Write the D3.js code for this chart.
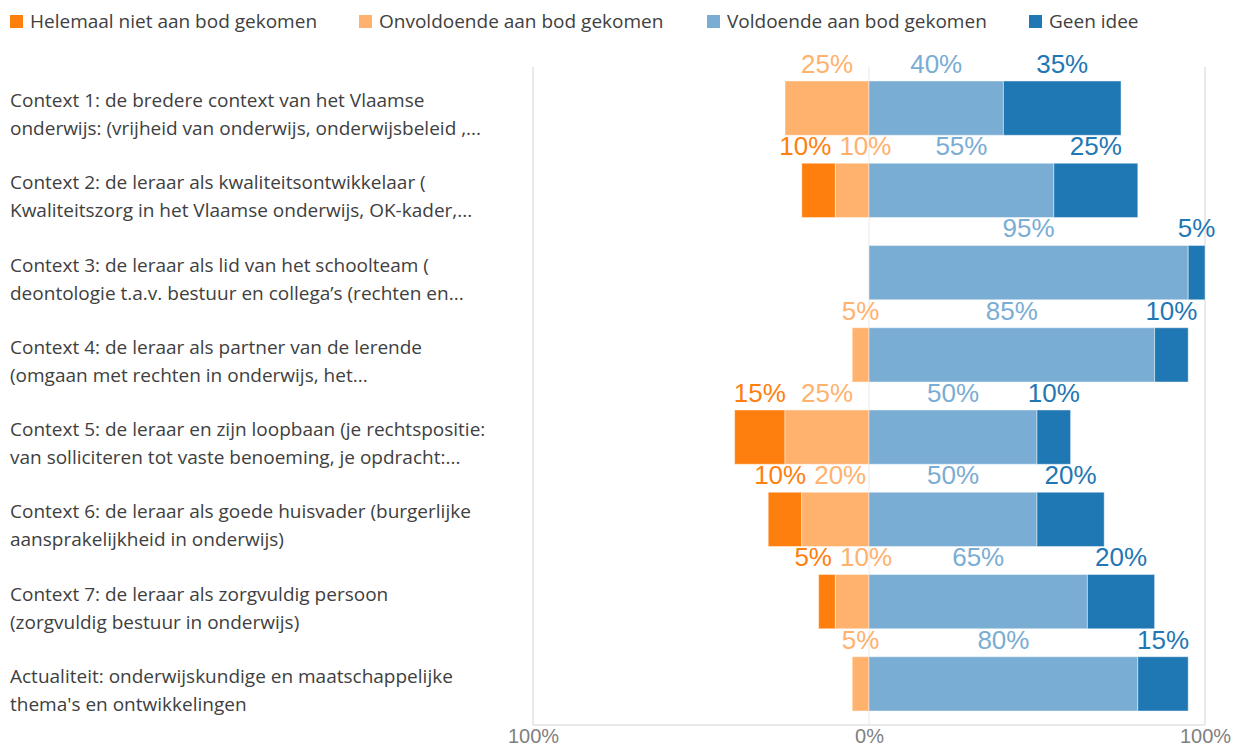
<!DOCTYPE html>
<html>
<head>
<meta charset="utf-8">
<script src="https://cdn.jsdelivr.net/npm/d3@7"></script>
<style>
  html, body { margin: 0; padding: 0; background: #fff; }
  svg { display: block; }
</style>
</head>
<body>
<svg id="chart" width="1239" height="747"></svg>
<script>
const categories = [
  ["Context 1: de bredere context van het Vlaamse", "onderwijs: (vrijheid van onderwijs, onderwijsbeleid ,..."],
  ["Context 2: de leraar als kwaliteitsontwikkelaar (", "Kwaliteitszorg in het Vlaamse onderwijs, OK-kader,..."],
  ["Context 3: de leraar als lid van het schoolteam (", "deontologie t.a.v. bestuur en collega\u2019s (rechten en..."],
  ["Context 4: de leraar als partner van de lerende", "(omgaan met rechten in onderwijs, het..."],
  ["Context 5: de leraar en zijn loopbaan (je rechtspositie:", "van solliciteren tot vaste benoeming, je opdracht:..."],
  ["Context 6: de leraar als goede huisvader (burgerlijke", "aansprakelijkheid in onderwijs)"],
  ["Context 7: de leraar als zorgvuldig persoon", "(zorgvuldig bestuur in onderwijs)"],
  ["Actualiteit: onderwijskundige en maatschappelijke", "thema's en ontwikkelingen"]
];
const seriesNames = ["Helemaal niet aan bod gekomen", "Onvoldoende aan bod gekomen", "Voldoende aan bod gekomen", "Geen idee"];
const helemaal    = [0, 10, 0, 0, 15, 10, 5, 0];
const onvoldoende = [25, 10, 0, 5, 25, 20, 10, 5];
const voldoende   = [40, 55, 95, 85, 50, 50, 65, 80];
const geenIdee    = [35, 25, 5, 10, 10, 20, 20, 15];
const tickValues  = [-100, 0, 100];
const tickLabels  = ["100%", "0%", "100%"];
const colors = ["#ff7f0e", "#ffb26e", "#7aadd3", "#1f77b4"];

const svg = d3.select("#chart");
const labelFont = "'Open Sans', 'Noto Sans', sans-serif";
const numFont = "'Liberation Sans', Arial, sans-serif";

const x = d3.scaleLinear().domain([-100, 100]).range([533, 1205]);
const y = d3.scaleBand().domain(d3.range(categories.length)).range([67, 725])
  .paddingInner(0.34).paddingOuter(0.17);

// frame
const g0 = svg.append("g");
g0.append("line").attr("x1", x(-100)).attr("x2", x(-100)).attr("y1", 67).attr("y2", 725).attr("stroke", "#e3e3e3").attr("stroke-width", 1.5);
g0.append("line").attr("x1", x(100)).attr("x2", x(100)).attr("y1", 67).attr("y2", 725).attr("stroke", "#e3e3e3").attr("stroke-width", 1.5);
g0.append("line").attr("x1", x(-100)).attr("x2", x(100)).attr("y1", 725).attr("y2", 725).attr("stroke", "#e3e3e3").attr("stroke-width", 1.5);
g0.append("line").attr("x1", x(0)).attr("x2", x(0)).attr("y1", 67).attr("y2", 725).attr("stroke", "#e8e8e8").attr("stroke-width", 1);

// axis
const axis = d3.axisBottom(x).tickValues(tickValues).tickFormat((d, i) => tickLabels[i]).tickSize(0).tickPadding(0);
const ag = svg.append("g").attr("transform", "translate(0,728)").call(axis);
ag.select(".domain").remove();
ag.selectAll("text").attr("font-family", numFont).attr("font-size", 20).attr("fill", "#7f7f7f").attr("dy", "0.75em").attr("y", 0);

// bars
const seriesVals = [helemaal, onvoldoende, voldoende, geenIdee];
const rows = categories.map((c, i) => {
  const segs = [];
  let cur = -(helemaal[i] + onvoldoende[i]);
  seriesVals.forEach((arr, s) => {
    const v = arr[i];
    segs.push({ s, v, x0: cur, x1: cur + v, row: i });
    cur += v;
  });
  return segs;
});

const barG = svg.append("g");
rows.forEach((segs, i) => {
  barG.selectAll(null).data(segs.filter(d => d.v > 0)).enter().append("rect")
    .attr("x", d => x(d.x0)).attr("width", d => x(d.x1) - x(d.x0))
    .attr("y", y(i)).attr("height", y.bandwidth())
    .attr("fill", d => colors[d.s])
    .attr("stroke", "#ffffff").attr("stroke-opacity", 0.45).attr("stroke-width", 1);
});

// value labels
const lblG = svg.append("g");
rows.forEach((segs, i) => {
  const items = segs.filter(d => d.v > 0).map(d => ({ ...d, cx: (x(d.x0) + x(d.x1)) / 2 }));
  const texts = lblG.selectAll(null).data(items).enter().append("text")
    .attr("font-family", numFont).attr("font-size", 26)
    .attr("fill", d => colors[d.s]).attr("text-anchor", "middle")
    .attr("y", y(i) - 8).text(d => d.v + "%");
  texts.each(function(d) { d.w = this.getComputedTextLength(); });
  const gap = 8;
  for (let iter = 0; iter < 20; iter++) {
    let moved = false;
    for (let k = 0; k < items.length - 1; k++) {
      const a = items[k], b = items[k + 1];
      const need = a.w / 2 + b.w / 2 + gap;
      const dist = b.cx - a.cx;
      if (dist < need - 0.5) {
        const push = (need - dist) / 2;
        a.cx -= push; b.cx += push; moved = true;
      }
    }
    if (!moved) break;
  }
  texts.attr("x", d => d.cx);
});

// category labels
const catG = svg.append("g");
categories.forEach((lines, i) => {
  const cy = y(i) + y.bandwidth() / 2;
  const t = catG.append("text").attr("font-family", labelFont).attr("font-size", 19)
    .attr("fill", "#404040");
  lines.forEach((ln, k) => {
    t.append("tspan").attr("x", 10).attr("y", cy - 1 + k * 28).text(ln);
  });
});

// legend
const legendX = [10, 359, 707, 1029];
const lg = svg.append("g");
seriesNames.forEach((n, s) => {
  lg.append("rect").attr("x", legendX[s]).attr("y", 15).attr("width", 13).attr("height", 13).attr("fill", colors[s]);
  lg.append("text").attr("x", legendX[s] + 20).attr("y", 28).attr("font-family", labelFont)
    .attr("font-size", 19).attr("fill", "#404040").text(n);
});
</script>
</body>
</html>
